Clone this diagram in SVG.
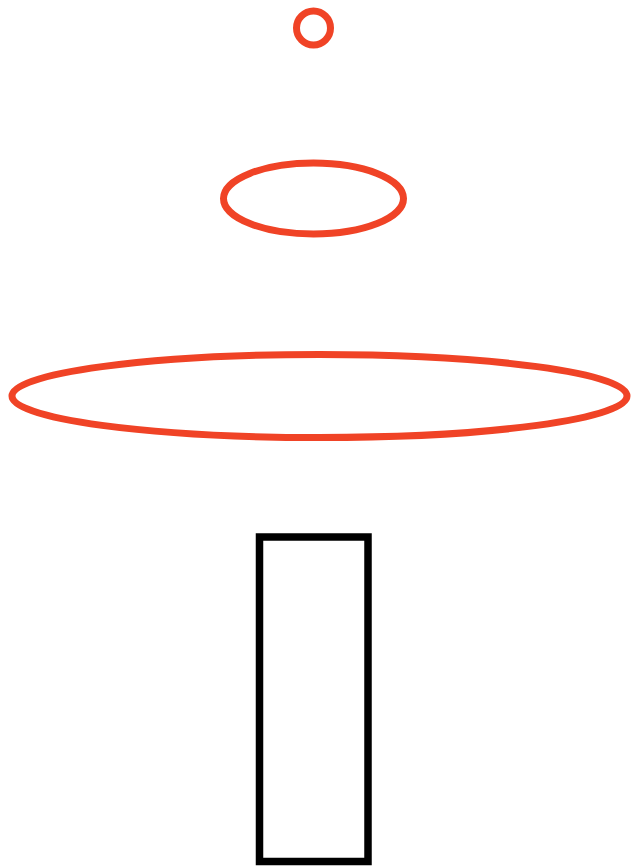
<svg xmlns="http://www.w3.org/2000/svg" width="631" height="866" viewBox="0 0 631 866">
<style>
.r{fill:none;stroke:#F04326;stroke-width:7}
.b{fill:none;stroke:#000;stroke-width:7.5}
</style>
<rect width="631" height="866" fill="#fff"/>
<g id="small-circle"><circle class="r" cx="313.5" cy="28" r="17"/></g>
<g id="mid-ellipse"><ellipse class="r" cx="313.5" cy="198.5" rx="90" ry="35.5"/></g>
<g id="wide-ellipse"><ellipse class="r" cx="319.5" cy="396" rx="307.5" ry="41.5"/></g>
<g id="rect"><rect class="b" x="259.5" y="537" width="108.5" height="324.5"/></g>
<g id="connectors"></g>
</svg>
